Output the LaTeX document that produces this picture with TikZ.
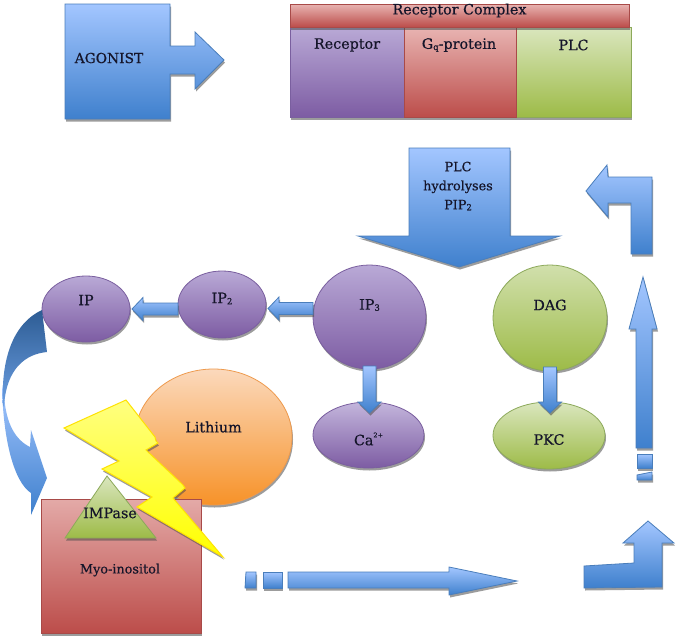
\documentclass[tikz,border=0pt]{standalone}
\usepackage{fontspec}
\setmainfont[FakeBold=0.5]{DejaVu Serif}
\usetikzlibrary{shapes.geometric,shadows,calc}
\definecolor{inkc}{HTML}{15152A}
\newcommand{\lowfig}[1]{\raisebox{-.08em}{\fontsize{8.5}{10}\selectfont #1}}
\newcommand{\highfig}[1]{\raisebox{.55em}{\fontsize{6.5}{8}\selectfont #1}}
\tikzset{
  soft/.style={drop shadow={shadow xshift=1pt,shadow yshift=-2.5pt,fill=black!70,opacity=.55}},
  bluefill/.style={soft,draw=#1,line width=.8pt,top color=blueT,bottom color=blueB},
  bluefill/.default=blueE,
  purplefill/.style={soft,draw=purpleE,line width=.8pt,top color=purpleT,bottom color=purpleB},
  redfill/.style={soft,draw=redE,line width=.8pt,top color=redT,bottom color=redB},
  greenfill/.style={soft,draw=greenE,line width=.8pt,top color=greenT,bottom color=greenB},
  orangefill/.style={soft,draw=orangeE,line width=.8pt,top color=orangeT,bottom color=orangeB},
  blob/.style={ellipse,inner sep=0pt,outer sep=0pt,minimum width=#1},
  txt/.style={text=inkc,font=\fontsize{14.3}{17}\selectfont,inner sep=0pt},
  small/.style={text=inkc,font=\fontsize{12.8}{15}\selectfont,inner sep=0pt},
}
\definecolor{blueT}{HTML}{A3C6FF}\definecolor{blueB}{HTML}{3F80CD}\definecolor{blueE}{HTML}{4A7EBB}
\definecolor{purpleT}{HTML}{B9A9D6}\definecolor{purpleB}{HTML}{7D5CA3}\definecolor{purpleE}{HTML}{7A5F9F}
\definecolor{redT}{HTML}{E8B4B2}\definecolor{redB}{HTML}{BC4D4A}\definecolor{redE}{HTML}{A84A48}
\definecolor{greenT}{HTML}{DAE6BE}\definecolor{greenB}{HTML}{9DBB47}\definecolor{greenE}{HTML}{8CA95A}
\definecolor{orangeT}{HTML}{FBD9BC}\definecolor{orangeB}{HTML}{F79228}\definecolor{orangeE}{HTML}{EE9A4D}
% Block arrows running between two points: sideways and upright versions.
% Arguments: start, tip, half shaft width, half head width, signed head length.
\newcommand{\sideblock}[5]{\draw[bluefill] let \p1=(#1),\p2=(#2) in
  (\x1,\y1+#3) -- (\x2+#5,\y1+#3) -- (\x2+#5,\y1+#4) -- (\x2,\y1)
  -- (\x2+#5,\y1-#4) -- (\x2+#5,\y1-#3) -- (\x1,\y1-#3) -- cycle;}
\newcommand{\upblock}[5]{\draw[bluefill] let \p1=(#1),\p2=(#2) in
  (\x1+#3,\y1) -- (\x1+#3,\y2+#5) -- (\x1+#4,\y2+#5) -- (\x1,\y2)
  -- (\x1-#4,\y2+#5) -- (\x1-#3,\y2+#5) -- (\x1-#3,\y1) -- cycle;}
\begin{document}
\begin{tikzpicture}[x=1pt,y=-1pt]
\useasboundingbox[fill=white] (0,0) rectangle (678,643);

% Agonist block arrow
\draw[bluefill] (65,4) -- (170,4) -- (170,46) -- (195,46) -- (195,32) -- (224,60)
  -- (195,89) -- (195,74) -- (170,74) -- (170,119) -- (65,119) -- cycle;
\node[txt,font=\fontsize{13.8}{16}\selectfont] (agonist) at (109,58) {AGONIST};

% Receptor complex
\node[purplefill,draw,minimum width=114pt,minimum height=90pt,inner sep=0pt,outer sep=0pt,
  label={[txt,yshift=27pt]center:Receptor}] (receptor) at (347,72) {};
\node[greenfill,draw,minimum width=115pt,minimum height=90pt,inner sep=0pt,outer sep=0pt,
  label={[txt,yshift=27pt]center:PLC}] (plc) at (573.5,72) {};
\node[redfill,draw,minimum width=112pt,minimum height=90pt,inner sep=0pt,outer sep=0pt,
  label={[txt,yshift=27pt,xshift=-1pt]center:G\lowfig{q}-protein}] (gprotein) at (460,72) {};
\node[redfill,draw,minimum width=339pt,minimum height=23pt,inner sep=0pt,outer sep=0pt,
  label={[txt,yshift=5pt]center:Receptor Complex}] (complex) at (459.5,15.5) {};

% Hydrolysis block arrow
\draw[bluefill] (409,148) -- (510,148) -- (510,236) -- (560,236) -- (459,267)
  -- (358,236) -- (409,236) -- cycle;
\node[small,font=\fontsize{12.8}{19}\selectfont,align=center] (hydrolysis) at (458,186) {PLC\\hydrolyses\\PIP\lowfig{2}};

% Return arrow at the upper right
\draw[bluefill] (586,191) -- (607,165) -- (608,177) -- (652,177) -- (652,254)
  -- (631,254) -- (631,203) -- (608,203) -- (608,217) -- cycle;

% Inositol phosphates and the DAG branch
\node[blob=113pt,purplefill,draw,minimum height=104pt,label={[txt,yshift=12pt]center:IP\lowfig{3}}] (ip3) at (369.5,317) {};
\node[blob=88pt,purplefill,draw,minimum height=67pt,label={[txt,yshift=6pt]center:IP\lowfig{2}}] (ip2) at (222,304.5) {};
\node[blob=88pt,purplefill,draw,minimum height=66pt,label={[txt,yshift=9pt]center:IP}] (ip) at (86,309) {};
\node[blob=111pt,purplefill,draw,minimum height=66pt,top color=purpleT!85!white,label={[txt,yshift=-4pt]center:Ca\highfig{2+}}] (calcium) at (368.5,435) {};
\node[blob=114pt,greenfill,draw,minimum height=106pt,top color=greenT!85!greenB,label={[txt,yshift=13pt]center:DAG}] (dag) at (550,318) {};
\node[blob=112pt,greenfill,draw,minimum height=67pt,label={[txt,yshift=-4pt]center:PKC}] (pkc) at (549,435.5) {};

% Short arrows linking the nodes
\coordinate (tipOne) at ($(ip.east)+(2,0)$);
\coordinate (tipTwo) at ($(ip2.east)+(2,4)$);
\sideblock{ip2.west |- tipOne}{tipOne}{6pt}{11.5pt}{11pt}
\sideblock{ip3.west |- tipTwo}{tipTwo}{6pt}{11.5pt}{11pt}
\upblock{$(ip3.south)+(0,-3)$}{$(calcium.north)+(0,11)$}{6.5pt}{11.5pt}{11pt}
\upblock{$(dag.south)+(0,-4)$}{$(pkc.north)+(1,11)$}{6.5pt}{11.5pt}{11pt}

% Recycling arrow from IP to myo-inositol
\draw[draw=none,top color=blueT,bottom color=blueB]
  (2,385) .. controls (3,440) and (14,482) .. (31,493) -- (31,515) -- (47,478) -- (31,430)
  -- (30,447) .. controls (16,440) and (6,425) .. (4,395) -- cycle;
\draw[draw=none,top color=blueB!72!black,bottom color=blueB!55!blueT]
  (3,405) .. controls (1,365) and (10,325) .. (42,310)
  -- (47,352) .. controls (26,354) and (6,368) .. (4,407) -- cycle;

% Lithium, the myo-inositol box and the enzyme
\node[blob=157pt,orangefill,draw,minimum height=136pt,label={[txt,yshift=10pt]center:Lithium}] (lithium) at (213.5,437) {};
\node[redfill,draw,minimum width=160pt,minimum height=134pt,inner sep=0pt,outer sep=0pt,top color=redT!90!redB] (myo) at (121,566) {};
\node[small] (myolabel) at (120,570) {Myo-inositol};
\draw[greenfill] (107,476) -- (156,538) -- (65,538) -- cycle;
\node[txt] (impase) at (110,513) {IMPase};

% Lightning bolt across the enzyme
\draw[soft,draw=yellow!85!orange,line width=1pt,top color=yellow!50!white,bottom color=yellow]
  (64,428) -- (126,400) -- (155,437) -- (156,441) -- (158,443) -- (146,450) -- (181,483)
  -- (183,485) -- (185,488) -- (173,498) -- (223,557) -- (137,507)
  -- (152,497) -- (102,469) -- (119,461) -- cycle;

% Interrupted arrow along the bottom
\draw[bluefill] (246,572) -- (256,572) -- (256,588) -- (245,588) -- cycle;
\draw[bluefill] (263,572) -- (282,572) -- (282,588) -- (263,588) -- cycle;
\draw[bluefill] (288,572) -- (449,572) -- (449,567) -- (517,581) -- (449,595) -- (449,588)
  -- (288,588) -- cycle;

% Bent arrow at the lower right
\draw[bluefill] (584,566) -- (634,563) -- (634,543) -- (623,543) -- (648,521) -- (674,543)
  -- (662,543) -- (662,587) -- (584,588) -- cycle;

% Interrupted arrow rising on the right
\draw[bluefill] (636,448) -- (636,329) -- (629,329) -- (643,277) -- (657,329) -- (652,329)
  -- (652,448) -- cycle;
\draw[bluefill] (637,454) -- (652,454) -- (652,468) -- (637,468) -- cycle;
\draw[bluefill] (637,475) -- (652,472) -- (652,480) -- (637,480) -- cycle;
\end{tikzpicture}
\end{document}
